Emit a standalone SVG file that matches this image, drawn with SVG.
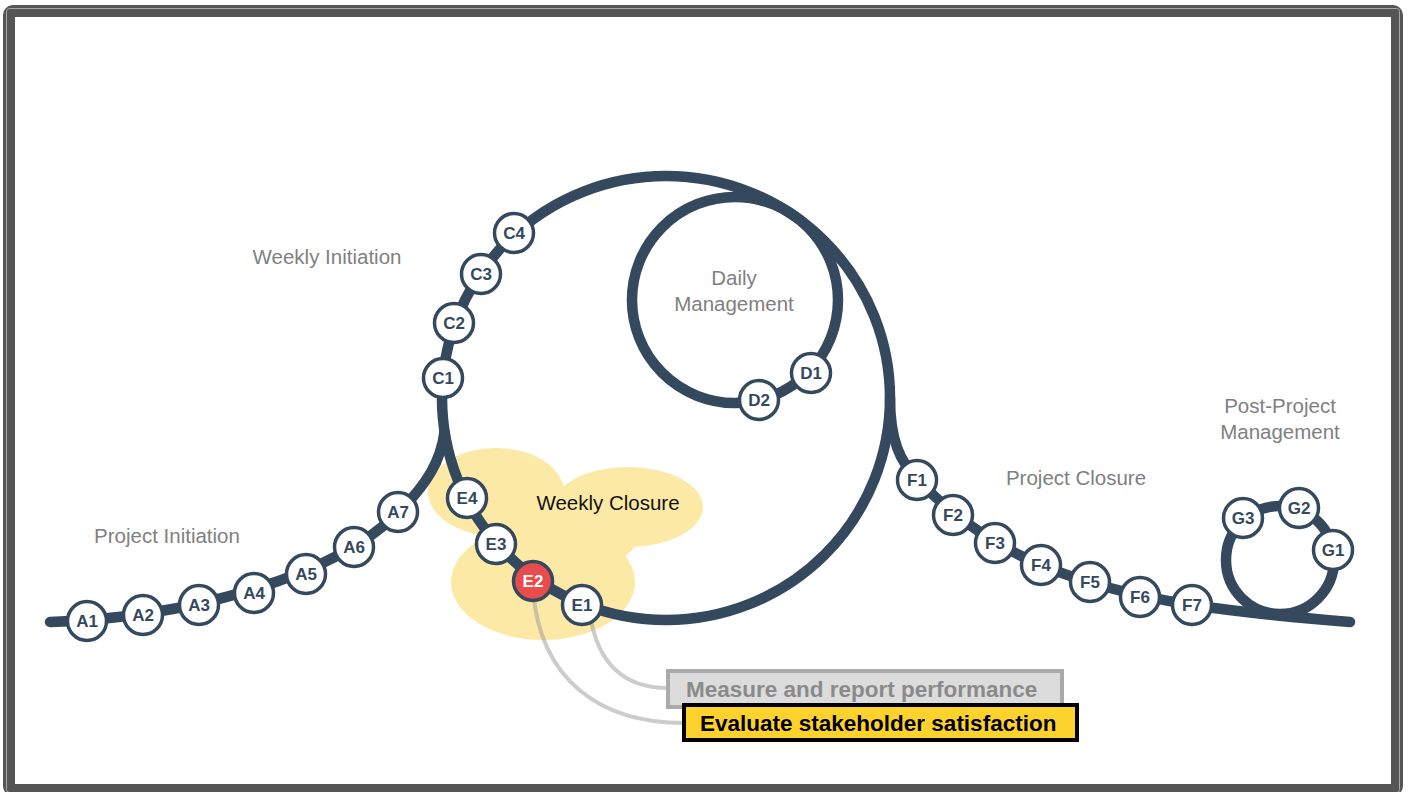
<svg xmlns="http://www.w3.org/2000/svg" width="1410" height="792" viewBox="0 0 1410 792">
<style>
.trk{fill:none;stroke:#34495e;stroke-width:10.5;stroke-linecap:round}
.nd circle{fill:#fff;stroke:#34495e;stroke-width:3.5}
.nd text{font-family:"Liberation Sans",Arial,sans-serif;font-weight:bold;font-size:17px;fill:#34495e;text-anchor:middle}
.lbl{font-family:"Liberation Sans",Arial,sans-serif;font-size:20.5px;fill:#808080;text-anchor:middle}
.call{fill:none;stroke:#999;stroke-opacity:0.5;stroke-width:4}
.btxt{font-family:"Liberation Sans",Arial,sans-serif;font-weight:bold;font-size:22.5px}
</style>
<rect x="0" y="0" width="1410" height="792" fill="#fff"/>
<g id="frame">
<rect x="9" y="11" width="1388" height="779" rx="4" fill="none" stroke="#555" stroke-width="12"/>
<rect x="6.5" y="8.5" width="1393" height="784" rx="3" fill="none" stroke="#a8a8a8" stroke-width="1"/>
</g>
<g id="weekly-closure-area" fill="#fde9a6">
<ellipse cx="496" cy="492" rx="68" ry="44"/>
<ellipse cx="628" cy="507" rx="75" ry="40"/>
<ellipse cx="543" cy="582" rx="92" ry="58"/>
<ellipse cx="580" cy="530" rx="60" ry="40"/>
</g>
<g id="labels">
<text class="lbl" x="327" y="264">Weekly Initiation</text>
<text class="lbl" x="167" y="543">Project Initiation</text>
<text class="lbl" x="734" y="285">Daily</text>
<text class="lbl" x="734" y="311">Management</text>
<text class="lbl" x="1280" y="413">Post-Project</text>
<text class="lbl" x="1280" y="439">Management</text>
<text class="lbl" x="1076" y="485">Project Closure</text>
<text class="lbl" x="608" y="510" style="fill:#111">Weekly Closure</text>
</g>
<g id="connectors">
<path class="call" d="M590,615 C598,665 625,688 668,688"/>
<path class="call" d="M533,590 C540,680 600,723 684,723"/>
<path class="trk" d="M50,622 C180,618 330,580 398,513 C428,483 441,460 444.5,432"/>
<ellipse class="trk" cx="666" cy="398" rx="224" ry="222"/>
<circle class="trk" cx="735" cy="300" r="103"/>
<path class="trk" d="M890,398 C890,440 900,462 918,480 C958,522 1001,548 1041,565 C1091,586 1142,597 1192,605 C1240,612 1300,618 1350,622"/>
<circle class="trk" cx="1280" cy="560" r="54"/>
</g>
<g id="A1" class="nd"><circle cx="87" cy="621" r="19.5"/><text x="87" y="627">A1</text></g>
<g id="A2" class="nd"><circle cx="143" cy="615" r="19.5"/><text x="143" y="621">A2</text></g>
<g id="A3" class="nd"><circle cx="199" cy="605" r="19.5"/><text x="199" y="611">A3</text></g>
<g id="A4" class="nd"><circle cx="254" cy="593" r="19.5"/><text x="254" y="599">A4</text></g>
<g id="A5" class="nd"><circle cx="306" cy="574" r="19.5"/><text x="306" y="580">A5</text></g>
<g id="A6" class="nd"><circle cx="354" cy="547" r="19.5"/><text x="354" y="553">A6</text></g>
<g id="A7" class="nd"><circle cx="398" cy="512" r="19.5"/><text x="398" y="518">A7</text></g>
<g id="C1" class="nd"><circle cx="443" cy="378" r="19.5"/><text x="443" y="384">C1</text></g>
<g id="C2" class="nd"><circle cx="454" cy="323" r="19.5"/><text x="454" y="329">C2</text></g>
<g id="C3" class="nd"><circle cx="481" cy="274" r="19.5"/><text x="481" y="280">C3</text></g>
<g id="C4" class="nd"><circle cx="514" cy="233" r="19.5"/><text x="514" y="239">C4</text></g>
<g id="D1" class="nd"><circle cx="811" cy="373" r="19.5"/><text x="811" y="379">D1</text></g>
<g id="D2" class="nd"><circle cx="759" cy="400" r="19.5"/><text x="759" y="406">D2</text></g>
<g id="E4" class="nd"><circle cx="467" cy="498" r="19.5"/><text x="467" y="504">E4</text></g>
<g id="E3" class="nd"><circle cx="496" cy="544" r="19.5"/><text x="496" y="550">E3</text></g>
<g id="E2" class="nd"><circle cx="533" cy="581" r="19.5" style="fill:#e84c4c"/><text x="533" y="587" style="fill:#fff">E2</text></g>
<g id="E1" class="nd"><circle cx="582" cy="605" r="19.5"/><text x="582" y="611">E1</text></g>
<g id="F1" class="nd"><circle cx="917" cy="480" r="19.5"/><text x="917" y="486">F1</text></g>
<g id="F2" class="nd"><circle cx="953" cy="515" r="19.5"/><text x="953" y="521">F2</text></g>
<g id="F3" class="nd"><circle cx="995" cy="543" r="19.5"/><text x="995" y="549">F3</text></g>
<g id="F4" class="nd"><circle cx="1041" cy="565" r="19.5"/><text x="1041" y="571">F4</text></g>
<g id="F5" class="nd"><circle cx="1090" cy="582" r="19.5"/><text x="1090" y="588">F5</text></g>
<g id="F6" class="nd"><circle cx="1140" cy="597" r="19.5"/><text x="1140" y="603">F6</text></g>
<g id="F7" class="nd"><circle cx="1192" cy="605" r="19.5"/><text x="1192" y="611">F7</text></g>
<g id="G1" class="nd"><circle cx="1333" cy="550" r="19.5"/><text x="1333" y="556">G1</text></g>
<g id="G2" class="nd"><circle cx="1299" cy="508" r="19.5"/><text x="1299" y="514">G2</text></g>
<g id="G3" class="nd"><circle cx="1243" cy="518" r="19.5"/><text x="1243" y="524">G3</text></g>
<g id="box-measure">
<rect x="668" y="671" width="394" height="36" fill="#dcdcdc" stroke="#aaaaaa" stroke-width="4"/>
<text class="btxt" x="686" y="697" fill="#8a8a8a">Measure and report performance</text>
</g>
<g id="box-evaluate">
<rect x="684" y="705" width="393" height="35" fill="#fdd22c" stroke="#000" stroke-width="4"/>
<text class="btxt" x="700" y="731" fill="#000">Evaluate stakeholder satisfaction</text>
</g>
</svg>
